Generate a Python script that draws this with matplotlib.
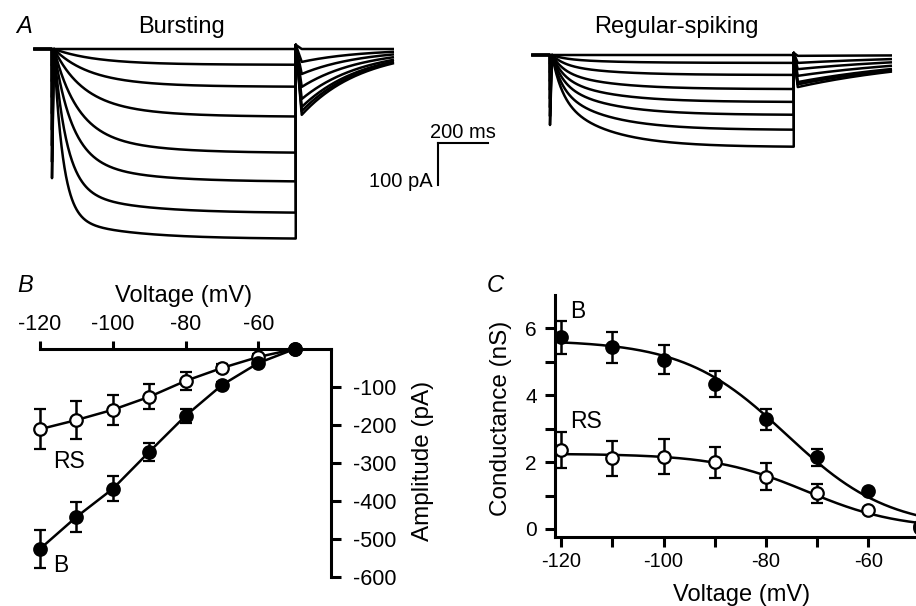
import numpy as np
import matplotlib
matplotlib.use('Agg')
import matplotlib.pyplot as plt

plt.rcParams['font.family'] = ['Liberation Sans', 'DejaVu Sans']
plt.rcParams['axes.unicode_minus'] = False

# ---- panel A: current traces (pA, ms), one per voltage step ----
step_mv = [-50, -60, -70, -80, -90, -100, -110, -120]
burst_amp = [0, 38, 91, 163, 250, 319, 394, 456]
burst_tau = [150, 150, 130, 110, 90, 70, 50, 36]
burst_w = [0.7, 0.7, 0.7, 0.7, 0.75, 0.8, 0.84, 0.88]
burst_tail = [0, 31, 60, 91, 120, 139, 149, 158]
burst_spike = [40, 78, 116, 155, 194, 232, 271, 310]
rs_amp = [0, 19, 48, 82, 113, 144, 180, 221]
rs_tau = [50, 50, 48, 46, 44, 42, 40, 40]
rs_tail = [2, 19, 34, 50, 65, 70, 70, 77]
rs_spike = [21, 42, 63, 84, 105, 126, 147, 168]

# ---- panel B: I-V ----
volt_b = [-120, -110, -100, -90, -80, -70, -60, -50]
amp_burst = [-526, -442, -368, -271, -176, -95, -37, 0]
amp_burst_err = [50, 40, 33, 24, 19, 8, 5, 0]
amp_rs = [-211, -187, -160, -126, -84, -50, -21, 0]
amp_rs_err = [53, 49, 40, 33, 24, 10, 8, 0]

# ---- panel C: conductance ----
volt_c = [-120, -110, -100, -90, -80, -70, -60, -50]
g_burst = [5.73, 5.43, 5.07, 4.33, 3.28, 2.14, 1.13, 0.02]
g_burst_err = [0.5, 0.46, 0.44, 0.39, 0.31, 0.25, 0.05, 0]
g_rs = [2.36, 2.11, 2.16, 1.99, 1.57, 1.07, 0.57, 0.1]
g_rs_err = [0.54, 0.53, 0.52, 0.47, 0.4, 0.29, 0.06, 0]
fit_burst = (5.65, -76, 10)   # gmax, v_half, slope
fit_rs = (2.25, -72, 9)

W, H = 916, 606
PRE, STEP, POST = 70, 975, 390

fig = plt.figure(figsize=(W / 100, H / 100), dpi=100)


def px_axes(x0, y0, x1, y1):
    return fig.add_axes([x0 / W, 1 - y1 / H, (x1 - x0) / W, (y1 - y0) / H])


def px_text(x, y, s, **kw):
    fig.text(x / W, 1 - y / H, s, **kw)


def trace(amp, tau_f, w, tau_s, spike, tail, tail_tau, over, rise):
    t_pre = np.arange(-PRE, 0, 2.0)
    t_on = np.arange(8, STEP, 2.0)
    x = t_on - 8
    i_on = -amp * (1 - w * np.exp(-x / tau_f) - (1 - w) * np.exp(-x / tau_s))
    t_off = np.arange(STEP + rise, STEP + POST, 2.0)
    i_off = -tail * np.exp(-(t_off - STEP - rise) / tail_tau)
    t = np.concatenate([t_pre, [0, 0], t_on, [STEP, STEP], t_off])
    i = np.concatenate([np.zeros_like(t_pre), [0, -spike], i_on, [i_on[-1], over], i_off])
    return t, i


# panel A axes: 4 ms per px, 2.4 pA per px
axA = px_axes(0, 0, W, 250)
axA.set_xlim(0, W * 4)
axA.set_ylim(-(250 - 49) * 2.4, 49 * 2.4)
axA.axis('off')

for k in range(len(step_mv)):
    t, i = trace(burst_amp[k], burst_tau[k], burst_w[k], 250, burst_spike[k],
                 burst_tail[k], 240, 10, 24)
    axA.plot(t + 208, i, color='black', lw=1.8)
    t, i = trace(rs_amp[k], rs_tau[k], 0.45, 200, rs_spike[k],
                 rs_tail[k], 570, 5, 16)
    axA.plot(t + 2200, i - 14.4, color='black', lw=1.8)

# scale bar 200 ms / 100 pA
axA.plot([1752, 1952], [-225.6, -225.6], color='black', lw=1.5)
axA.plot([1752, 1752], [-225.6, -325.6], color='black', lw=1.5)
px_text(463, 138, '200 ms', ha='center', va='baseline', fontsize=14.5)
px_text(433, 187, '100 pA', ha='right', va='baseline', fontsize=14.5)

px_text(24, 33, 'A', ha='center', va='baseline', fontsize=17, style='italic')
px_text(181, 33, 'Bursting', ha='center', va='baseline', fontsize=17)
px_text(676, 33, 'Regular-spiking', ha='center', va='baseline', fontsize=17)

# ---- panel B ----
axB = px_axes(40, 349, 331, 577)
axB.set_xlim(-120, -40)
axB.set_ylim(-600, 0)
for s in ['left', 'bottom']:
    axB.spines[s].set_visible(False)
for s in ['top', 'right']:
    axB.spines[s].set_linewidth(2.2)
axB.xaxis.tick_top()
axB.yaxis.tick_right()
axB.set_xticks([-120, -100, -80, -60])
axB.set_yticks([-600, -500, -400, -300, -200, -100])
axB.tick_params(axis='x', length=6, width=2.2, labelsize=15.5, pad=4)
axB.tick_params(axis='y', length=7, width=2.2, labelsize=15.5, pad=9)
axB.patch.set_alpha(0)

for y, e, face in [(amp_rs, amp_rs_err, 'white'), (amp_burst, amp_burst_err, 'black')]:
    parts = axB.errorbar(volt_b, y, yerr=e, fmt='-o', color='black', mfc=face,
                         mec='black', ms=9, mew=1.6, lw=1.8, elinewidth=1.8,
                         capsize=4, capthick=1.8)
    for a in parts.get_children():
        a.set_clip_on(False)

px_text(53, 462, 'RS', ha='left', va='center', fontsize=16.5)
px_text(53, 566, 'B', ha='left', va='center', fontsize=16.5)
px_text(25, 292, 'B', ha='center', va='baseline', fontsize=17, style='italic')
px_text(184, 302, 'Voltage (mV)', ha='center', va='baseline', fontsize=17)
px_text(423, 461, 'Amplitude (pA)', ha='center', va='center', rotation=90, fontsize=17.5)

# ---- panel C ----
axC = px_axes(555, 295, 940, 537)
axC.set_xlim(-121.2, -46)
axC.set_ylim(-0.24, 7.0)
for s in ['right', 'top']:
    axC.spines[s].set_visible(False)
for s in ['left', 'bottom']:
    axC.spines[s].set_linewidth(2.2)
axC.set_xticks([-120, -110, -100, -90, -80, -70, -60, -50])
axC.set_xticklabels(['-120', '', '-100', '', '-80', '', '-60', ''])
axC.set_yticks([0, 1, 2, 3, 4, 5, 6])
axC.set_yticklabels(['0', '', '2', '', '4', '', '6'])
axC.tick_params(axis='x', length=7, width=2.2, labelsize=14.5, pad=4)
axC.tick_params(axis='y', length=7, width=2.2, labelsize=15, pad=6)
axC.patch.set_alpha(0)

v_fit = np.linspace(-120, -46, 300)
for gmax, vh, k in [fit_rs, fit_burst]:
    axC.plot(v_fit, gmax / (1 + np.exp((v_fit - vh) / k)), color='black', lw=1.8)

for y, e, face in [(g_rs, g_rs_err, 'white'), (g_burst, g_burst_err, 'black')]:
    parts = axC.errorbar(volt_c, y, yerr=e, fmt='o', color='black', mfc=face,
                         mec='black', ms=9, mew=1.6, elinewidth=1.8,
                         capsize=4, capthick=1.8)
    for a in parts.get_children():
        a.set_clip_on(False)

px_text(570, 312, 'B', ha='left', va='center', fontsize=16.5)
px_text(570, 421, 'RS', ha='left', va='center', fontsize=16.5)
px_text(495, 292, 'C', ha='center', va='baseline', fontsize=17, style='italic')
px_text(742, 601, 'Voltage (mV)', ha='center', va='baseline', fontsize=17)
px_text(501, 418, 'Conductance (nS)', ha='center', va='center', rotation=90, fontsize=17.5)

fig.savefig('out.png', dpi=100)
